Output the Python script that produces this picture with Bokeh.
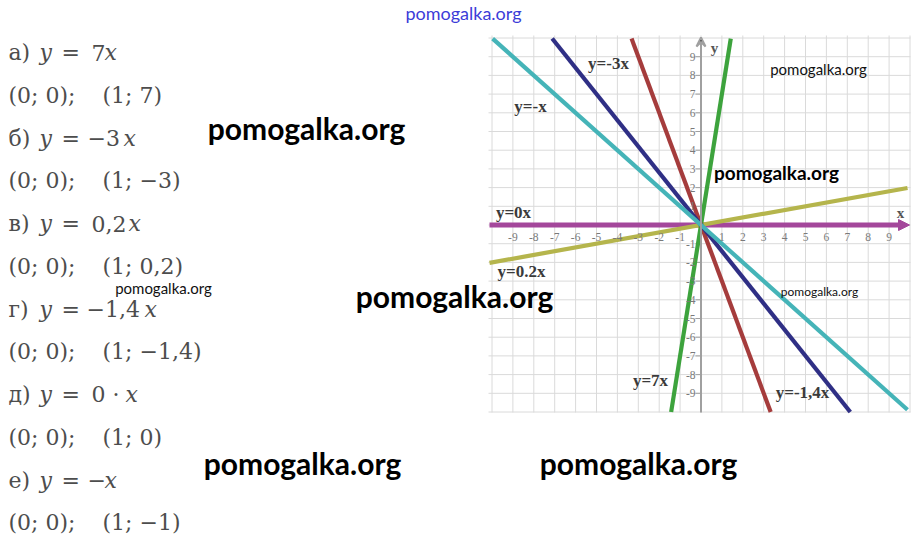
from bokeh.plotting import figure
from bokeh.models import Range1d, Arrow, VeeHead, NormalHead
from bokeh.core.properties import value
from bokeh.embed import file_html
from bokeh.resources import INLINE
import numpy as np

# ---------------- data ----------------
letters = ["а", "б", "в", "г", "д", "е"]
slopes = [7, -3, 0.2, -1.4, 0, -1]
coef_text = ["7", "−3", "0,2", "−1,4", "0 ·", "−"]
point0_text = ["(0; 0);"] * 6
point1_text = ["(1; 7)", "(1; −3)", "(1; 0,2)", "(1; −1,4)", "(1; 0)", "(1; −1)"]
line_labels = ["y=7x", "y=-3x", "y=0.2x", "y=-1,4x", "y=0x", "y=-x"]
line_colors = ["#3da33d", "#a53c3c", "#b5b54c", "#2f2f85", "#a4479b", "#45b4b8"]
x_ticks = [-9, -8, -7, -6, -5, -4, -3, -2, -1, 1, 2, 3, 4, 5, 6, 7, 8, 9]
y_ticks = [-9, -8, -7, -6, -5, -4, -3, -2, -1, 1, 2, 3, 4, 5, 6, 7, 8, 9]
grid_vals = list(range(-10, 11))
watermark = "pomogalka.org"

# ---------------- layout helpers (picture pixels -> graph units) ----------------
OX, OY = 700.5, 224.5
UX, UY = 20.9, 18.7
W, H = 924, 545


def dx(px):
    return (px - OX) / UX


def dy(py):
    return (OY - py) / UY


p = figure(width=W, height=H, x_range=Range1d(dx(0), dx(W)),
           y_range=Range1d(dy(H), dy(0)), output_backend="svg",
           toolbar_location=None, min_border=0, x_axis_type=None, y_axis_type=None)
p.grid.visible = False
p.outline_line_color = None
p.background_fill_color = "white"
p.border_fill_color = "white"

# ---------------- graph grid ----------------
GX0, GX1, GY0, GY1 = dx(488), dx(910), dy(412), dy(35)
p.segment(x0=grid_vals, y0=[GY0] * len(grid_vals), x1=grid_vals, y1=[GY1] * len(grid_vals),
          line_color="#dadada", line_width=1)
p.segment(x0=[GX0] * len(grid_vals), y0=grid_vals, x1=[GX1] * len(grid_vals), y1=grid_vals,
          line_color="#dadada", line_width=1)

# y axis with arrow
p.add_layout(Arrow(end=VeeHead(size=9, line_color="#a0a0a0", line_width=2),
                   x_start=0, y_start=GY0, x_end=0, y_end=dy(37),
                   line_color="#a0a0a0", line_width=2))
p.segment(x0=[dx(695)] * len(y_ticks), y0=y_ticks, x1=[0] * len(y_ticks), y1=y_ticks,
          line_color="#a0a0a0", line_width=1)

# ---------------- lines ----------------
BX0, BX1, BY0, BY1 = dx(489), dx(907), -10.0, 9.97
order = [4, 2, 0, 1, 3, 5]
for i in order:
    k = slopes[i]
    if k == 0:
        xa, xb = BX0, dx(898)
    else:
        ends = sorted([BY0 / k, BY1 / k])
        xa, xb = max(BX0, ends[0]), min(BX1, ends[1])
    xs = np.array([xa, xb])
    p.line(xs, k * xs, line_color=line_colors[i], line_width=5 if k == 0 else 4.2)
    if k == 0:
        p.add_layout(Arrow(end=NormalHead(size=11, fill_color=line_colors[i],
                                          line_color=line_colors[i]),
                           x_start=xb, y_start=0, x_end=dx(909), y_end=0,
                           line_color=line_colors[i], line_width=5))

# tick labels
p.text(x=x_ticks, y=[dy(236)] * len(x_ticks), text=[str(t) for t in x_ticks],
       text_font=value("Liberation Serif"), text_font_size=value("11.5px"),
       text_color="#7a7a7a", text_align="center", text_baseline="middle")
p.text(x=[dx(695)] * len(y_ticks), y=y_ticks, text=[str(t) for t in y_ticks],
       text_font=value("Liberation Serif"), text_font_size=value("11.5px"),
       text_color="#7a7a7a", text_align="right", text_baseline="middle")
p.text(x=[dx(900), dx(714)], y=[dy(212), dy(47)], text=["x", "y"],
       text_font=value("Liberation Serif"), text_font_size=value("15px"),
       text_font_style="bold", text_color="#555555", text_align="center",
       text_baseline="middle")

# line labels
lab_px = [650, 608, 521, 802, 513, 530]
lab_py = [380, 63, 271, 392, 212, 106]
p.text(x=[dx(v) for v in lab_px], y=[dy(v) for v in lab_py], text=line_labels,
       text_font=value("Liberation Serif"), text_font_size=value("17px"),
       text_font_style="bold", text_color="#3a3a3a", text_align="center",
       text_baseline="middle")

# ---------------- left column ----------------
TC = "#4d4d4d"
FONT = value("DejaVu Serif")
FS = value("22px")
row_y = [52 + j * 42.75 for j in range(12)]
f_y = [dy(row_y[2 * i]) for i in range(6)]
pt_y = [dy(row_y[2 * i + 1]) for i in range(6)]
coef_px = [91, 87, 91, 86, 91, 87]
xvar_px = [104, 123, 128, 144, 125, 104]

p.text(x=[dx(8)] * 6, y=f_y, text=[l + ")" for l in letters], text_font=FONT,
       text_font_size=FS, text_color=TC, text_baseline="middle")
p.text(x=[dx(39)] * 6, y=f_y, text=["y"] * 6, text_font=FONT, text_font_size=FS,
       text_font_style="italic", text_color=TC, text_baseline="middle")
p.text(x=[dx(61)] * 6, y=f_y, text=["="] * 6, text_font=FONT, text_font_size=FS,
       text_color=TC, text_baseline="middle")
p.text(x=[dx(v) for v in coef_px], y=f_y, text=coef_text, text_font=FONT,
       text_font_size=FS, text_color=TC, text_baseline="middle")
p.text(x=[dx(v) for v in xvar_px], y=f_y, text=["x"] * 6, text_font=FONT,
       text_font_size=FS, text_font_style="italic", text_color=TC,
       text_baseline="middle")
p.text(x=[dx(8)] * 6, y=pt_y, text=point0_text, text_font=FONT, text_font_size=FS,
       text_color=TC, text_baseline="middle")
p.text(x=[dx(102)] * 6, y=pt_y, text=point1_text, text_font=FONT, text_font_size=FS,
       text_color=TC, text_baseline="middle")

# ---------------- watermarks ----------------
wm = [  # (center x, center y, size, weight, color)
    (463, 12, "18px", "normal", "#3c3cd8"),
    (306, 127, "30px", "bold", "#000000"),
    (776, 172, "19px", "bold", "#000000"),
    (818, 68, "15px", "normal", "#111111"),
    (163, 287, "15px", "normal", "#111111"),
    (454, 295, "30px", "bold", "#000000"),
    (819, 291, "12px", "normal", "#111111"),
    (302, 462, "30px", "bold", "#000000"),
    (638, 462, "30px", "bold", "#000000"),
]
for cx, cy, fs, fw, col in wm:
    p.text(x=[dx(cx)], y=[dy(cy)], text=[watermark], text_font=value("Lato"),
           text_font_size=value(fs), text_font_style=fw, text_color=col,
           text_align="center", text_baseline="middle")

open("out.html", "w").write(file_html(p, INLINE))
